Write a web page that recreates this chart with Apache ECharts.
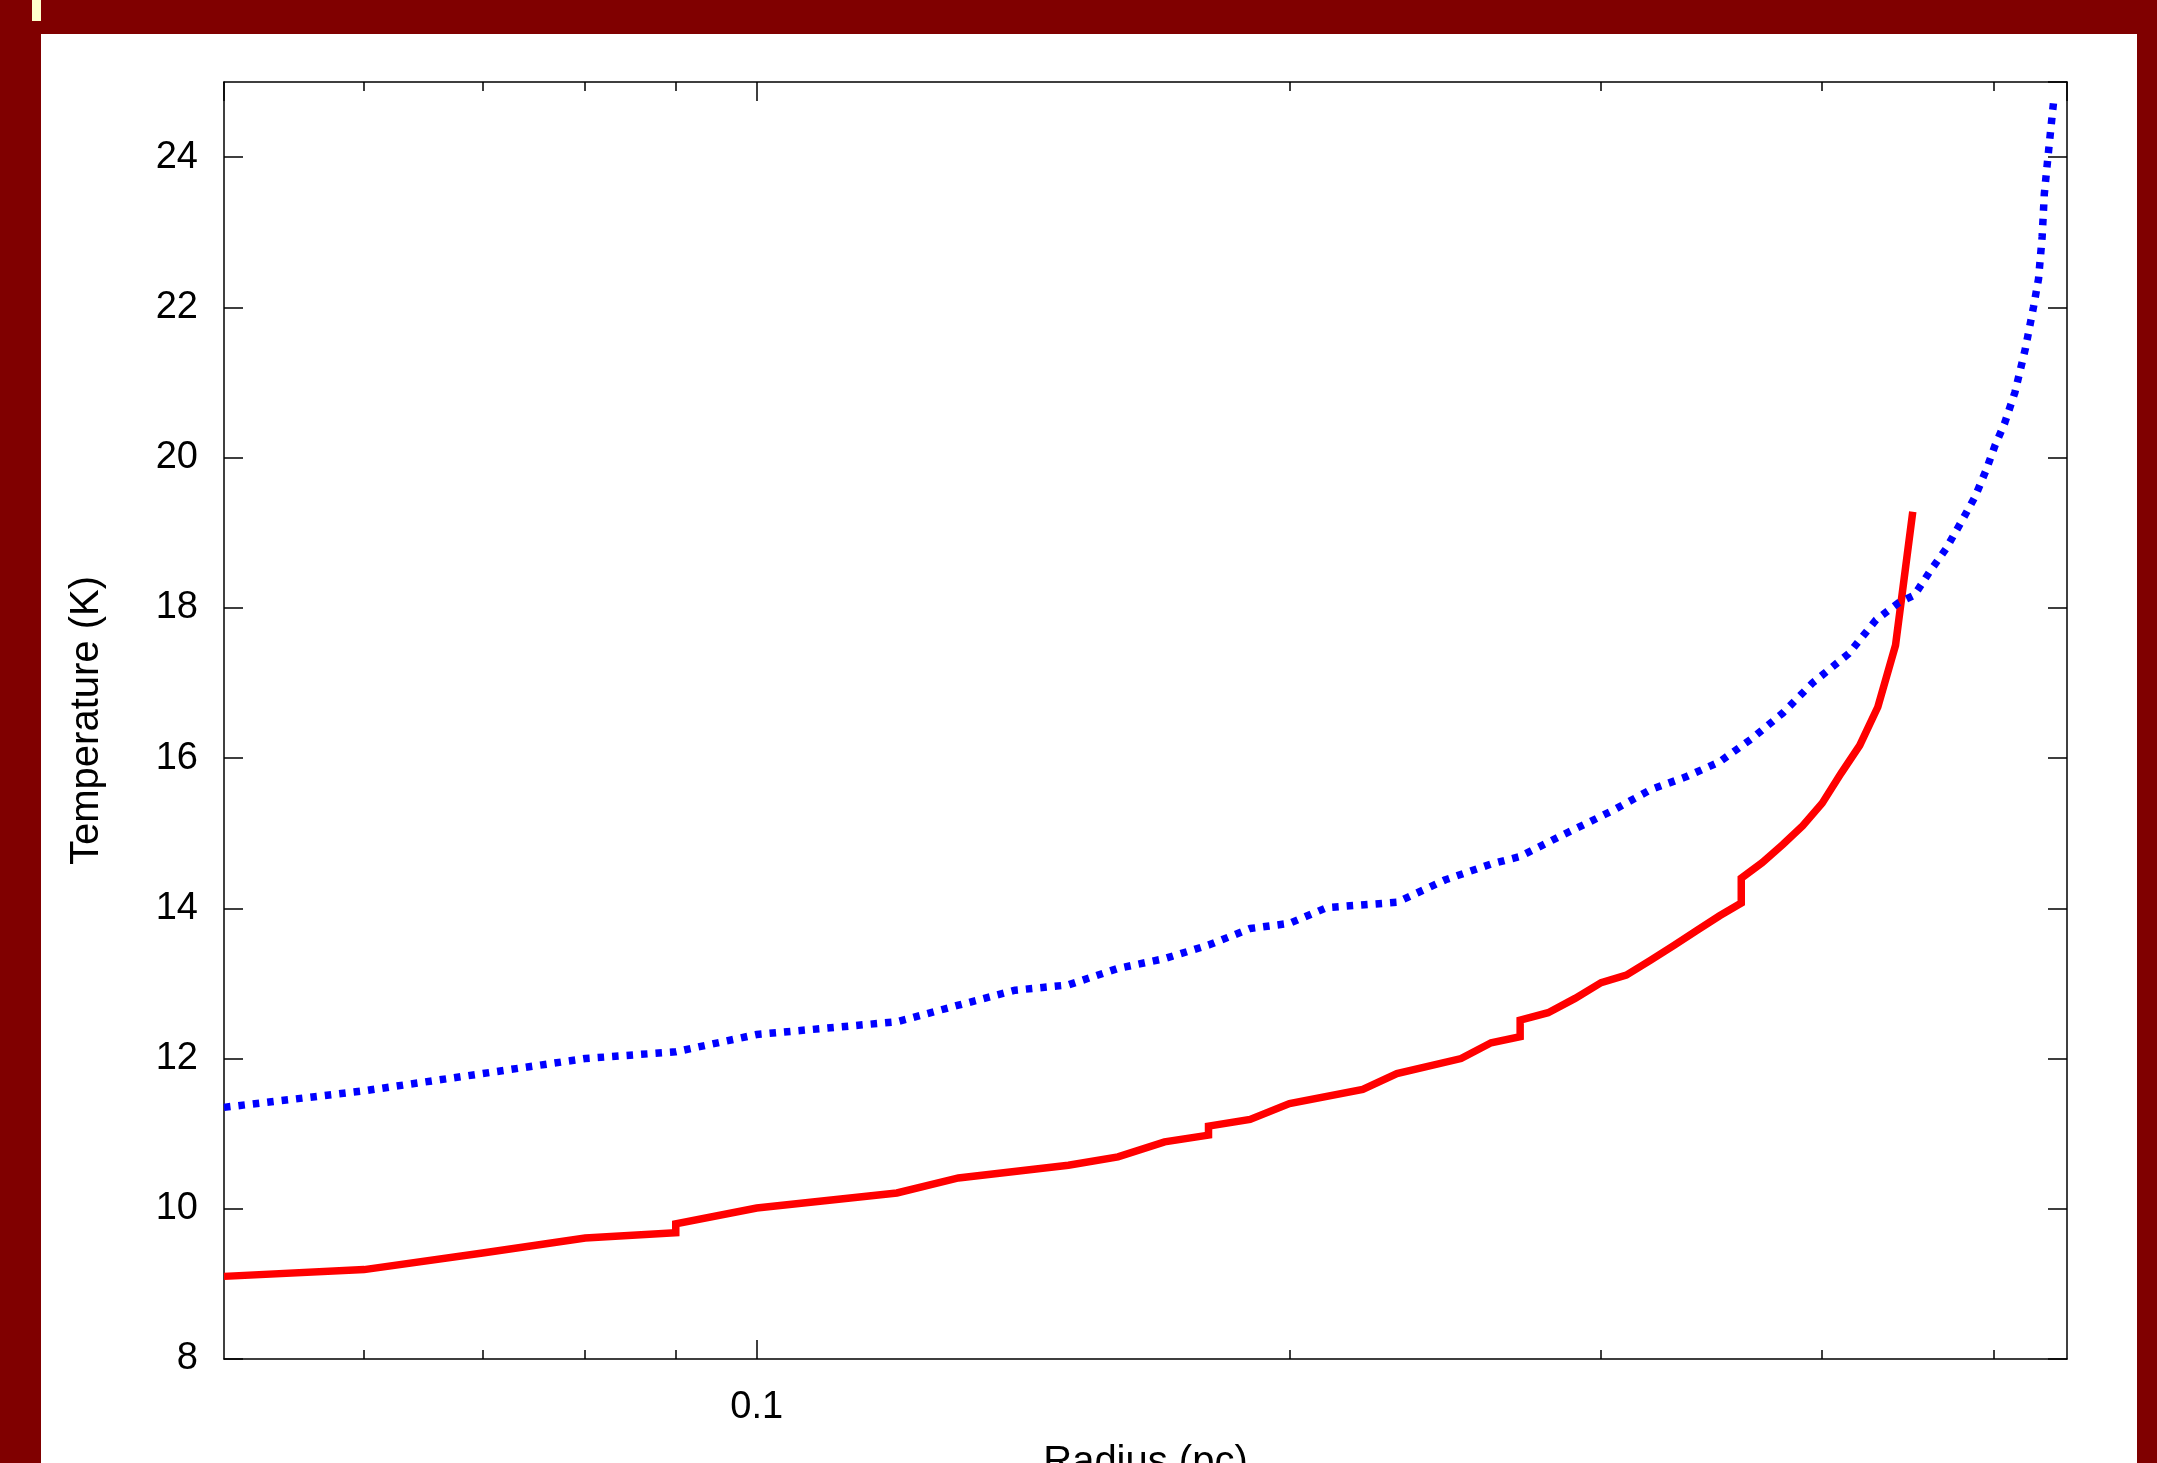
<!DOCTYPE html>
<html>
<head>
<meta charset="utf-8">
<script src="https://cdn.jsdelivr.net/npm/echarts@6/dist/echarts.min.js"></script>
<style>
html,body{margin:0;padding:0;background:#800000;overflow:hidden;}
#chart{width:2157px;height:1463px;}
</style>
</head>
<body>
<div id="chart"></div>
<script>
// Radius (pc) / Temperature (K) pairs
const redRadius = [0.05, 0.06, 0.07, 0.08, 0.09, 0.09, 0.10, 0.12, 0.13, 0.15, 0.16, 0.17, 0.18, 0.18, 0.19, 0.20, 0.22, 0.23, 0.25, 0.26, 0.27, 0.27, 0.28, 0.29, 0.30, 0.31, 0.32, 0.33, 0.34, 0.35, 0.36, 0.36, 0.37, 0.38, 0.39, 0.40, 0.41, 0.42, 0.43, 0.44, 0.45];
const redTemp   = [9.10, 9.19, 9.41, 9.61, 9.68, 9.80, 10.01, 10.21, 10.41, 10.58, 10.69, 10.89, 10.98, 11.10, 11.19, 11.40, 11.59, 11.80, 12.00, 12.21, 12.29, 12.51, 12.61, 12.80, 13.01, 13.11, 13.31, 13.51, 13.71, 13.90, 14.07, 14.40, 14.61, 14.85, 15.10, 15.40, 15.80, 16.17, 16.68, 17.50, 19.28];

const blueRadius = [0.05, 0.06, 0.07, 0.08, 0.09, 0.10, 0.12, 0.13, 0.14, 0.15, 0.16, 0.17, 0.18, 0.19, 0.20, 0.21, 0.23, 0.245, 0.26, 0.27, 0.285, 0.295, 0.305, 0.32, 0.335, 0.35, 0.365, 0.38, 0.395, 0.414, 0.429, 0.442, 0.451, 0.46, 0.47, 0.48, 0.488, 0.495, 0.501, 0.507, 0.514, 0.521, 0.5265, 0.530, 0.5325, 0.534, 0.537, 0.5405];
const blueTemp   = [11.35, 11.57, 11.80, 12.00, 12.09, 12.32, 12.49, 12.71, 12.91, 12.98, 13.20, 13.33, 13.51, 13.73, 13.80, 14.01, 14.08, 14.38, 14.59, 14.69, 14.97, 15.14, 15.31, 15.58, 15.75, 15.95, 16.26, 16.60, 17.00, 17.39, 17.84, 18.07, 18.17, 18.48, 18.79, 19.17, 19.48, 19.83, 20.17, 20.45, 20.87, 21.45, 22.00, 22.38, 22.94, 23.51, 24.09, 24.74];

const xMin = 0.05, xMax = 0.55;
const xMinorTicks = [0.06, 0.07, 0.08, 0.09, 0.2, 0.3, 0.4, 0.5];
const yMin = 8, yMax = 25, yStep = 2;

const xAxisName = 'Radius (pc)';
const yAxisName = 'Temperature (K)';

const FONT = 'Liberation Sans, Arial, Helvetica, sans-serif';
const lineCol = '#000';

function zip(a, b) { return a.map((v, i) => [v, b[i]]); }

function xAx(pos, opts) {
  return Object.assign({
    type: 'log', logBase: 10, min: xMin, max: xMax, position: pos,
    axisLine: { show: true, onZero: false, lineStyle: { color: lineCol, width: 1.5 } },
    axisTick: { show: true, inside: true, length: 19, lineStyle: { color: lineCol, width: 1.5 } },
    axisLabel: { show: false },
    splitLine: { show: false },
    minorTick: { show: false }
  }, opts);
}

const option = {
  animation: false,
  backgroundColor: '#800000',
  graphic: [
    { type: 'rect', z: -10, shape: { x: 41, y: 34, width: 2096, height: 1440 }, style: { fill: '#ffffff' } },
    { type: 'rect', z: -10, shape: { x: 32, y: 0, width: 9, height: 21 }, style: { fill: '#ffffcc' } }
  ],
  grid: { left: 224, top: 82, width: 1843, height: 1277, containLabel: false, outerBoundsMode: 'none' },
  xAxis: [
    xAx('bottom', {
      name: xAxisName, nameLocation: 'middle', nameGap: 84,
      nameTextStyle: { fontSize: 40, color: '#000', fontFamily: FONT },
      axisLabel: { show: true, fontSize: 38, color: '#000', fontFamily: FONT, margin: 30, showMinLabel: false, showMaxLabel: false }
    }),
    xAx('bottom', {
      axisLine: { show: false },
      axisTick: { show: true, inside: true, length: 9, customValues: xMinorTicks, lineStyle: { color: lineCol, width: 1.5 } }
    }),
    xAx('top', {}),
    xAx('top', {
      axisLine: { show: false },
      axisTick: { show: true, inside: true, length: 9, customValues: xMinorTicks, lineStyle: { color: lineCol, width: 1.5 } }
    })
  ],
  yAxis: [
    {
      type: 'value', min: yMin, max: yMax, interval: yStep, position: 'left',
      name: yAxisName, nameLocation: 'middle', nameGap: 117, nameRotate: 90,
      nameTextStyle: { fontSize: 40, color: '#000', fontFamily: FONT },
      axisLine: { show: true, onZero: false, lineStyle: { color: lineCol, width: 1.5 } },
      axisTick: { show: true, inside: true, length: 19, lineStyle: { color: lineCol, width: 1.5 } },
      axisLabel: { show: true, fontSize: 38, color: '#000', fontFamily: FONT, margin: 26, showMaxLabel: false },
      splitLine: { show: false }
    },
    {
      type: 'value', min: yMin, max: yMax, interval: yStep, position: 'right',
      axisLine: { show: true, onZero: false, lineStyle: { color: lineCol, width: 1.5 } },
      axisTick: { show: true, inside: true, length: 19, lineStyle: { color: lineCol, width: 1.5 } },
      axisLabel: { show: false },
      splitLine: { show: false }
    }
  ],
  series: [
    {
      type: 'line', xAxisIndex: 0, yAxisIndex: 0,
      data: zip(redRadius, redTemp),
      symbol: 'none', smooth: false, clip: true,
      lineStyle: { color: '#ff0000', width: 7.5, join: 'miter', cap: 'butt' },
      z: 3
    },
    {
      type: 'line', xAxisIndex: 0, yAxisIndex: 0,
      data: zip(blueRadius, blueTemp),
      symbol: 'none', smooth: false, clip: true,
      lineStyle: { color: '#0000ff', width: 7.5, type: [6.5, 8], cap: 'butt' },
      z: 4
    }
  ]
};

const chart = echarts.init(document.getElementById('chart'), null, { renderer: 'canvas' });
chart.setOption(option);
</script>
</body>
</html>
